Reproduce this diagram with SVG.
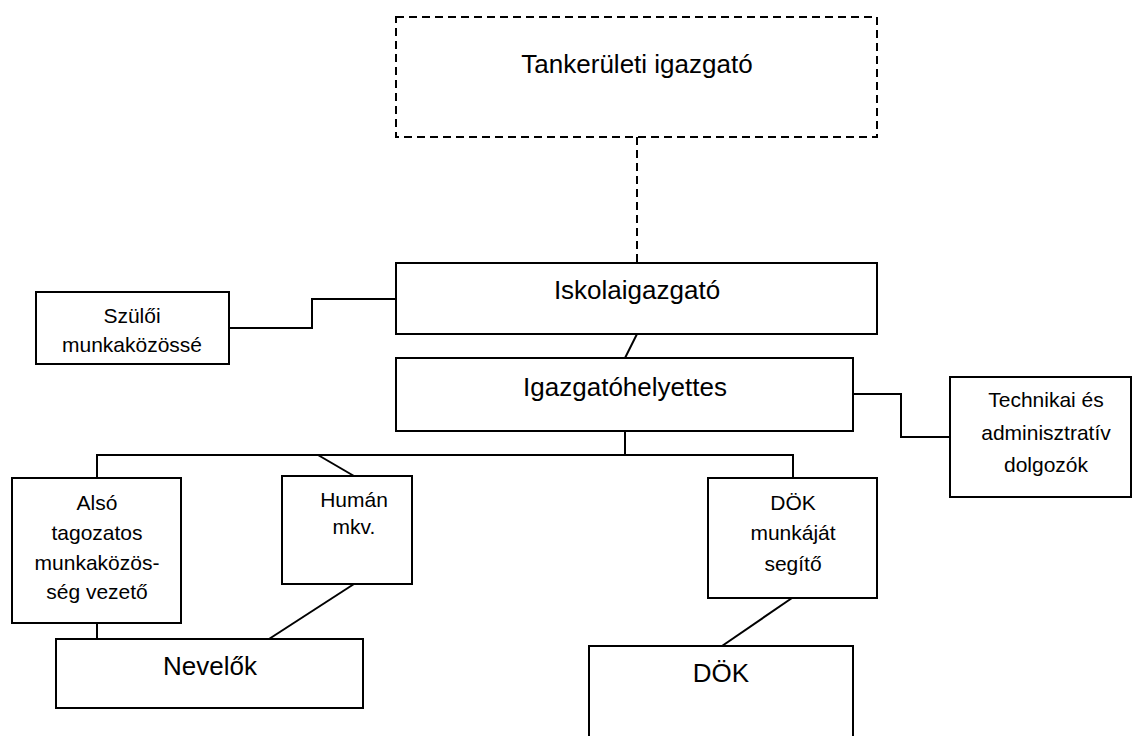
<svg xmlns="http://www.w3.org/2000/svg" width="1133" height="736" viewBox="0 0 1133 736">
<style>
.box{fill:#fff;stroke:#000;stroke-width:2}
.dash{stroke-dasharray:8,5}
.big{font-family:"Liberation Sans",Arial,sans-serif;font-size:26px;fill:#000;text-anchor:middle}
.sm{font-family:"Liberation Sans",Arial,sans-serif;font-size:21px;fill:#000;text-anchor:middle}
.con{fill:none;stroke:#000;stroke-width:2}
</style>
<rect width="1133" height="736" fill="#fff"/>
<g id="connectors">
<path class="con dash" d="M637 137V262"/>
<path class="con" d="M637 334L625 358"/>
<path class="con" d="M229 328H312V299H396"/>
<path class="con" d="M853 394H901V437H950"/>
<path class="con" d="M625 431V455M97 478V455H793V478"/>
<path class="con" d="M318 455L354 476"/>
<path class="con" d="M97 623V639"/>
<path class="con" d="M354 584L269 639"/>
<path class="con" d="M792 598L722 646"/>
</g>
<g id="tankeruleti">
<rect class="box dash" x="396" y="17" width="481" height="120"/>
<text class="big" x="637" y="73">Tankerületi igazgató</text>
</g>
<g id="iskolaigazgato">
<rect class="box" x="396" y="263" width="481" height="71"/>
<text class="big" x="637" y="299">Iskolaigazgató</text>
</g>
<g id="igazgatohelyettes">
<rect class="box" x="396" y="358" width="457" height="73"/>
<text class="big" x="625" y="396">Igazgatóhelyettes</text>
</g>
<g id="szuloi">
<rect class="box" x="36" y="292" width="193" height="72"/>
<text class="sm" x="132" y="323">Szülői</text>
<text class="sm" x="132" y="352">munkaközössé</text>
</g>
<g id="technikai">
<rect class="box" x="950" y="377" width="181" height="120"/>
<text class="sm" x="1046" y="407">Technikai és</text>
<text class="sm" x="1046" y="440">adminisztratív</text>
<text class="sm" x="1046" y="472">dolgozók</text>
</g>
<g id="also">
<rect class="box" x="12" y="478" width="169" height="145"/>
<text class="sm" x="97" y="510">Alsó</text>
<text class="sm" x="97" y="540">tagozatos</text>
<text class="sm" x="97" y="570">munkaközös-</text>
<text class="sm" x="97" y="599">ség vezető</text>
</g>
<g id="human">
<rect class="box" x="282" y="476" width="130" height="108"/>
<text class="sm" x="354" y="507">Humán</text>
<text class="sm" x="354" y="534">mkv.</text>
</g>
<g id="dok-segito">
<rect class="box" x="708" y="478" width="169" height="120"/>
<text class="sm" x="793" y="510">DÖK</text>
<text class="sm" x="793" y="540">munkáját</text>
<text class="sm" x="793" y="571">segítő</text>
</g>
<g id="nevelok">
<rect class="box" x="56" y="639" width="307" height="69"/>
<text class="big" x="210" y="675">Nevelők</text>
</g>
<g id="dok">
<rect class="box" x="589" y="646" width="264" height="100"/>
<text class="big" x="721" y="682">DÖK</text>
</g>
</svg>
